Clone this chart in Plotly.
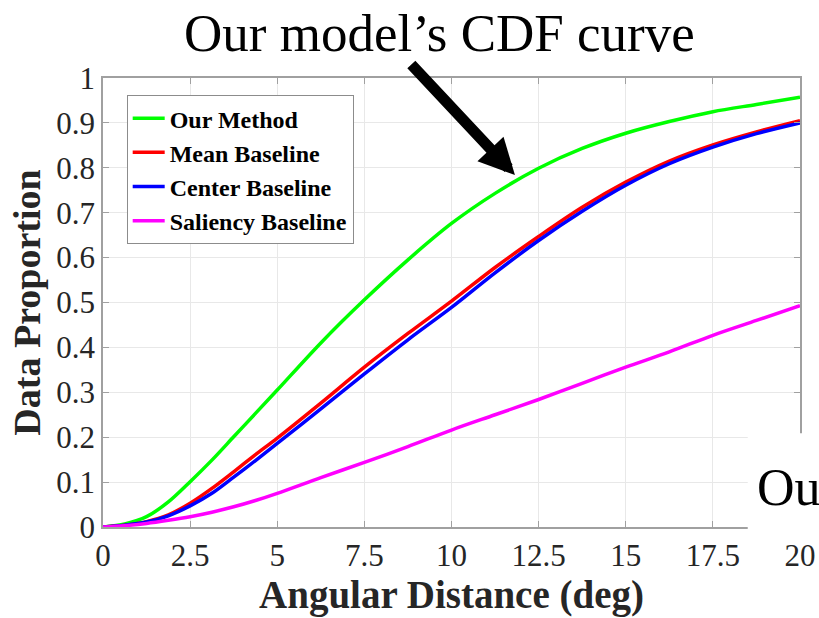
import plotly.graph_objects as go

# ---- data ----
angle_deg = [0, 0.625, 1.25, 1.875, 2.5, 3.125, 3.75, 4.375, 5, 6.25, 7.5, 8.75, 10,
             11.25, 12.5, 13.75, 15, 16.25, 17.5, 18.75, 20]
our_method = [0, 0.007, 0.023, 0.056, 0.101, 0.149, 0.201, 0.253, 0.305, 0.41, 0.506, 0.595, 0.676,
              0.743, 0.799, 0.843, 0.877, 0.903, 0.925, 0.941, 0.957]
mean_baseline = [0, 0.004, 0.012, 0.027, 0.053, 0.086, 0.123, 0.161, 0.198, 0.276, 0.356, 0.431, 0.503,
                 0.578, 0.647, 0.712, 0.768, 0.815, 0.851, 0.880, 0.905]
center_baseline = [0, 0.004, 0.011, 0.025, 0.047, 0.075, 0.111, 0.148, 0.186, 0.263, 0.341, 0.417, 0.489,
                   0.566, 0.638, 0.703, 0.761, 0.809, 0.846, 0.876, 0.900]
saliency_baseline = [0, 0.003, 0.008, 0.015, 0.023, 0.033, 0.045, 0.059, 0.075, 0.11, 0.144, 0.179, 0.216,
                     0.25, 0.284, 0.32, 0.356, 0.39, 0.427, 0.46, 0.493]

series_names = ["Our Method", "Mean Baseline", "Center Baseline", "Saliency Baseline"]
series_colors = ["#00FF00", "#FF0000", "#0000FF", "#FF00FF"]

x_tickvals = [0, 2.5, 5, 7.5, 10, 12.5, 15, 17.5, 20]
x_ticktext = ["0", "2.5", "5", "7.5", "10", "12.5", "15", "17.5", "20"]
y_tickvals = [0, 0.1, 0.2, 0.3, 0.4, 0.5, 0.6, 0.7, 0.8, 0.9, 1]
y_ticktext = ["0", "0.1", "0.2", "0.3", "0.4", "0.5", "0.6", "0.7", "0.8", "0.9", "1"]

title_text = "Our model\u2019s CDF curve"
x_title = "Angular Distance (deg)"
y_title = "Data Proportion"

SERIF = "Liberation Serif, Times New Roman, serif"

fig = go.Figure()
for name, color, ys in zip(series_names, series_colors,
                           [our_method, mean_baseline, center_baseline, saliency_baseline]):
    fig.add_trace(go.Scatter(x=angle_deg, y=ys, mode="lines", name=name,
                             line=dict(color=color, width=3.5, shape="spline", smoothing=0.9)))

axis_common = dict(
    showline=True, linecolor="#a0a0a0", linewidth=1.5, mirror="ticks",
    ticks="inside", ticklen=6, tickcolor="#a0a0a0", tickwidth=1,
    showgrid=True, gridcolor="#e8e8e8", gridwidth=1, zeroline=False,
    tickfont=dict(family=SERIF, size=31, color="#262626"),
    automargin=False,
)

fig.update_xaxes(range=[0, 20], tickmode="array", tickvals=x_tickvals, ticktext=x_ticktext,
                 title=dict(text=x_title, font=dict(family=SERIF, size=39, color="#262626", weight="bold"),
                            standoff=7),
                 **axis_common)
fig.update_yaxes(range=[0, 1], tickmode="array", tickvals=y_tickvals, ticktext=y_ticktext,
                 title=dict(text=y_title, font=dict(family=SERIF, size=38, color="#262626", weight="bold"),
                            standoff=4),
                 **axis_common)

fig.update_layout(
    width=819, height=618,
    margin=dict(l=103, r=19, t=78, b=91),
    paper_bgcolor="white", plot_bgcolor="white",
    font=dict(family=SERIF, color="#262626"),
    showlegend=True,
    legend=dict(
        x=0.034, y=0.962, xanchor="left", yanchor="top",
        bgcolor="white", bordercolor="#8c8c8c", borderwidth=1,
        font=dict(family=SERIF, size=24, color="black", weight="bold"),
        tracegroupgap=0, itemwidth=32,
    ),
)

# big title text
fig.add_annotation(text=title_text, xref="paper", yref="paper", x=0.4835, y=1.1,
                   xanchor="center", yanchor="middle", showarrow=False,
                   font=dict(family=SERIF, size=53, color="black"))

# arrow pointing to our curve
fig.add_annotation(x=11.82, y=0.784, xref="x", yref="y", text="", showarrow=True,
                   ax=-105, ay=-112, arrowhead=2, arrowsize=0.65, arrowwidth=11, arrowcolor="black")

# white patch at lower right with cut-off text
fig.add_shape(type="rect", xref="paper", yref="paper", x0=0.925, x1=1.1, y0=-0.018, y1=0.209,
              fillcolor="white", line=dict(width=0), layer="above")
fig.add_annotation(text="Ou", xref="paper", yref="paper", x=0.9355, y=0.087,
                   xanchor="left", yanchor="middle", showarrow=False,
                   font=dict(family=SERIF, size=52, color="black"))

fig.write_html("out.html", config={"displayModeBar": False},
               post_script="document.body.style.margin='0';document.body.style.overflow='hidden';")
